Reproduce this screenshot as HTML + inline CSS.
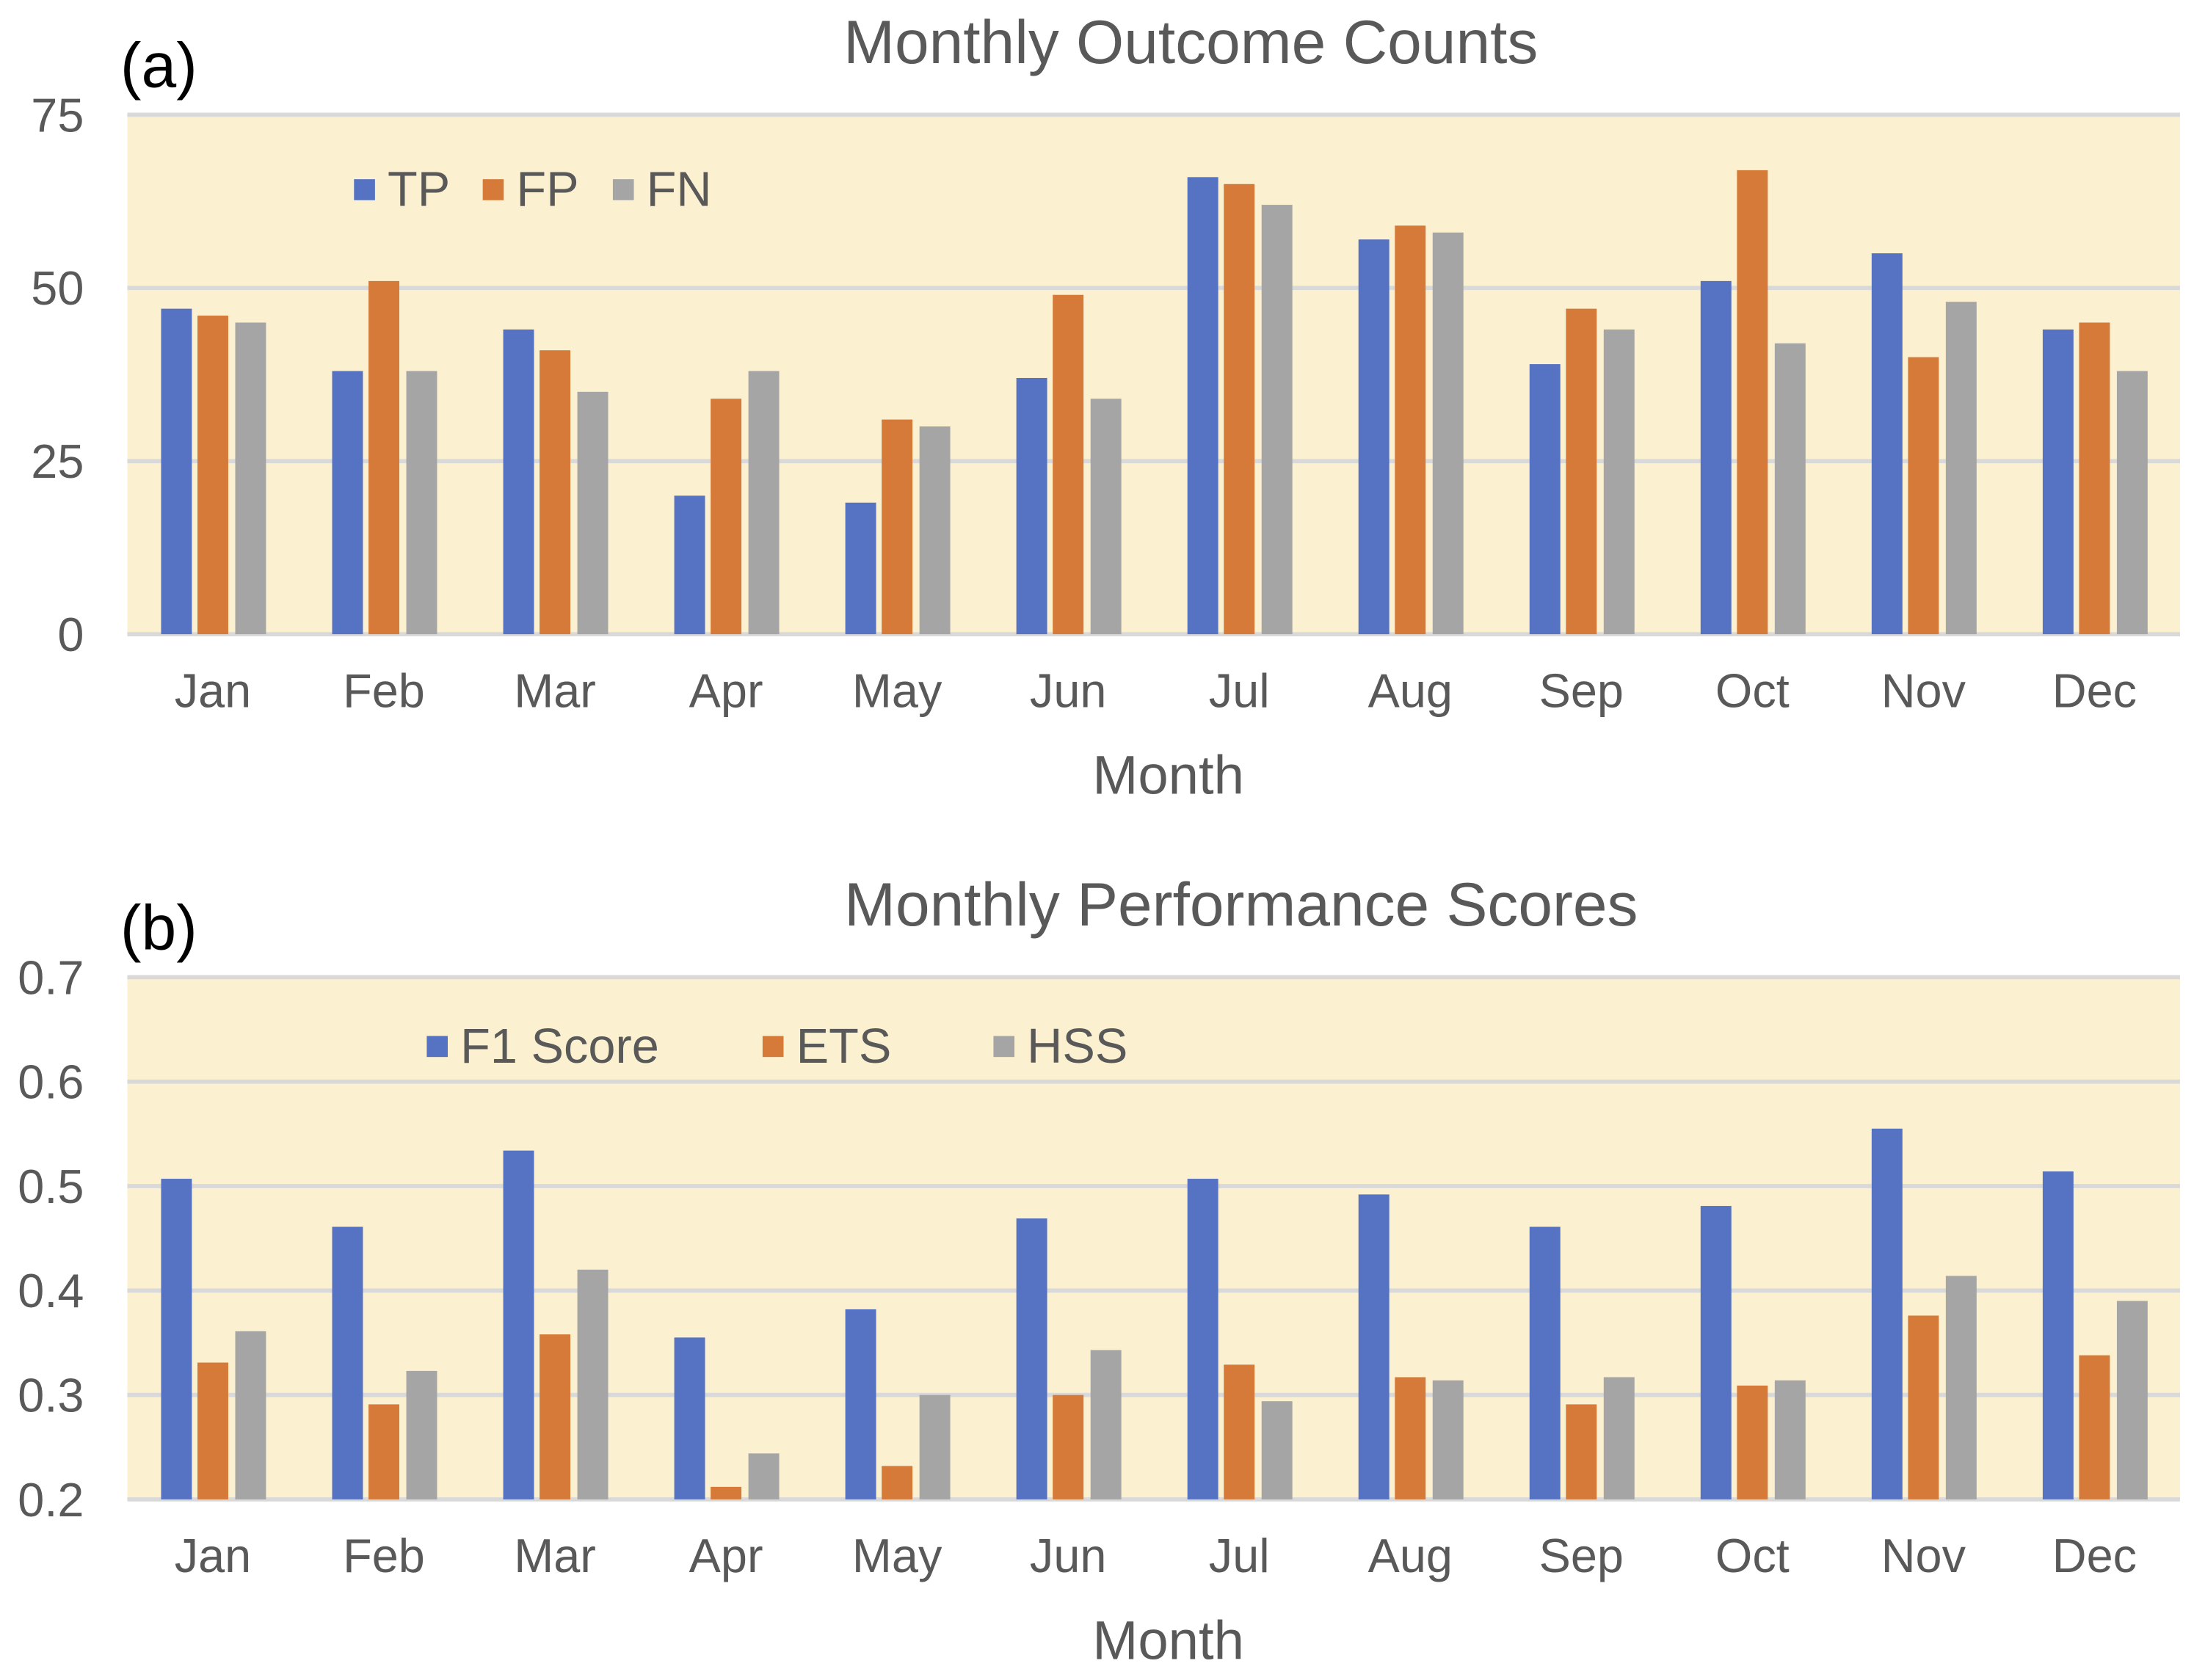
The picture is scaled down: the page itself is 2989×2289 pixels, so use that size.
<!DOCTYPE html>
<html><head><meta charset="utf-8"><style>
html,body{margin:0;padding:0;background:#fff;}
svg{display:block;font-family:"Liberation Sans",Arial,sans-serif;}
</style></head><body>
<svg id="chart" width="2989" height="2289" viewBox="0 0 1568 1200" preserveAspectRatio="none" xmlns="http://www.w3.org/2000/svg"></svg>
<script>
const months = ["Jan","Feb","Mar","Apr","May","Jun","Jul","Aug","Sep","Oct","Nov","Dec"];
const tpValues = [47,38,44,20,19,37,66,57,39,51,55,44];
const fpValues = [46,51,41,34,31,49,65,59,47,67,40,45];
const fnValues = [45,38,35,38,30,34,62,58,44,42,48,38];
const f1Values = [0.507,0.461,0.534,0.355,0.382,0.469,0.507,0.492,0.461,0.481,0.555,0.514];
const etsValues = [0.331,0.291,0.358,0.212,0.232,0.300,0.329,0.317,0.291,0.309,0.376,0.338];
const hssValues = [0.361,0.323,0.420,0.244,0.300,0.343,0.294,0.314,0.317,0.314,0.414,0.390];
const ticksA = [0,25,50,75];
const ticksB = [0.2,0.3,0.4,0.5,0.6,0.7];
const seriesNamesA = ["TP","FP","FN"];
const seriesNamesB = ["F1 Score","ETS","HSS"];

const NS="http://www.w3.org/2000/svg";
const svg=document.getElementById('chart');
const colors=["#5672C2","#D57A39","#A5A5A5"];
function mk(tag,attrs,parent){const e=document.createElementNS(NS,tag);for(const k in attrs)e.setAttribute(k,attrs[k]);(parent||svg).appendChild(e);return e;}
function txt(s,x,y,size,anchor,parent){const t=mk('text',{x:x,y:y,'font-size':size,fill:'#595959','text-anchor':anchor},parent);t.textContent=s;return t;}

function panel(cfg){
  const g=mk('g',{});
  
  
  const L=91,R=1558,T=cfg.top,B=cfg.bottom;
  const yS=v=>B-(v-cfg.min)/(cfg.max-cfg.min)*(B-T);
  const bg=mk('rect',{x:L,y:T,width:R-L,height:B-T,fill:'#FBF0CF'},g);
  
  
  cfg.ticks.forEach(t=>{
    const y=yS(t);
    const gl=mk('line',{x1:L,x2:R,y1:y,y2:y,stroke:'#D9D9D9','stroke-width':3},g);
    
    
    const tl=txt(cfg.fmt(t),60,y+12,34,'end',g);
    
    
  });
  const cw=(R-L)/months.length;
  const offs=[-26,0,27],bw=22;
  months.forEach((m,i)=>{
    const cx=L+cw*(i+0.5);
    cfg.series.forEach((s,j)=>{
      const y=yS(s[i]);
      const r=mk('rect',{x:cx+offs[j]-bw/2,y:y,width:bw,height:B-y,fill:colors[j]},g);
      
      
    });
    const xl=txt(m,cx,B+52,34,'middle',g);
    
    
  });
  const xt=txt('Month',835,B+114,39,'middle',g);
  
  
  const ti=txt(cfg.title,cfg.titleX,T-37,44,'middle',g);
  
  
  const pl=mk('text',{x:86,y:T-20,'font-size':45,fill:'#000'},g);
  pl.textContent=cfg.label;
  
  
  cfg.names.forEach((n,j)=>{
    const lg=mk('g',{},g);
    
    
    mk('rect',{x:cfg.legX[j],y:cfg.legY-7,width:15,height:15,fill:colors[j]},lg);
    txt(n,cfg.legX[j]+24,cfg.legY+12,35,'start',lg);
  });
}
panel({name:'panel-a-outcome-counts',top:82,bottom:453,min:0,max:75,ticks:ticksA,fmt:t=>String(t),
  series:[tpValues,fpValues,fnValues],names:seriesNamesA,title:'Monthly Outcome Counts',titleX:851,label:'(a)',
  legX:[253,345,438],legY:135});
panel({name:'panel-b-performance-scores',top:698,bottom:1071,min:0.2,max:0.7,ticks:ticksB,fmt:t=>t.toFixed(1),
  series:[f1Values,etsValues,hssValues],names:seriesNamesB,title:'Monthly Performance Scores',titleX:887,label:'(b)',
  legX:[305,545,710],legY:747});
</script>
</body></html>
